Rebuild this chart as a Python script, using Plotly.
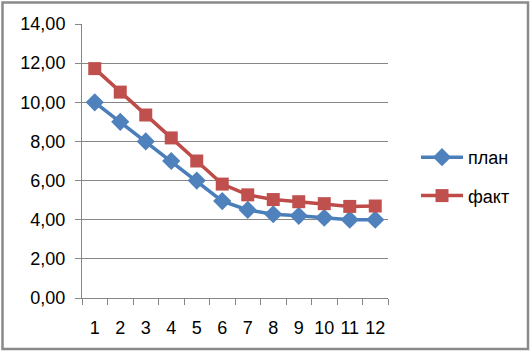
import plotly.graph_objects as go

categories = ["1", "2", "3", "4", "5", "6", "7", "8", "9", "10", "11", "12"]
plan = [10.0, 9.0, 8.0, 7.0, 6.0, 4.95, 4.5, 4.28, 4.2, 4.1, 4.0, 4.0]
fact = [11.72, 10.52, 9.35, 8.18, 7.0, 5.82, 5.27, 5.03, 4.92, 4.82, 4.68, 4.7]
y_ticks = [0, 2, 4, 6, 8, 10, 12, 14]
y_tick_labels = ["0,00", "2,00", "4,00", "6,00", "8,00", "10,00", "12,00", "14,00"]

W, H = 530, 351
L, R, T, B = 82, 142, 24, 53
pw, ph = W - L - R, H - T - B

fig = go.Figure()
fig.add_trace(go.Scatter(
    x=categories, y=plan, name="план", mode="lines+markers",
    line=dict(color="#4A7EBB", width=3.5),
    marker=dict(symbol="diamond", size=14, color="#4F81BD"),
    legendgroup="a",
))
fig.add_trace(go.Scatter(
    x=categories, y=fact, name="факт", mode="lines+markers",
    line=dict(color="#BE4B48", width=3.5),
    marker=dict(symbol="square", size=13, color="#C0504D"),
    legendgroup="b",
))

gray = "#868686"
fig.update_layout(
    width=W, height=H,
    margin=dict(l=L, r=R, t=T, b=B, pad=0),
    paper_bgcolor="white", plot_bgcolor="white",
    font=dict(family="Liberation Sans, Arial, sans-serif", size=18, color="black"),
    showlegend=True,
    legend=dict(
        x=(416 - L) / pw, y=(298 - 139) / ph, xanchor="left", yanchor="top",
        font=dict(size=18), traceorder="grouped", tracegroupgap=12,
        bgcolor="rgba(0,0,0,0)", itemwidth=42,
    ),
    xaxis=dict(
        type="category", range=[-0.5, 11.5],
        showline=True, linecolor=gray, linewidth=1,
        ticks="outside", ticklen=6, tickcolor=gray, tickson="boundaries",
        showgrid=False, zeroline=False, fixedrange=True,
        tickangle=0, ticklabelstandoff=13,
        tickfont=dict(size=18),
    ),
    yaxis=dict(
        range=[0, 14], tickvals=y_ticks, ticktext=y_tick_labels,
        showline=True, linecolor=gray, linewidth=1,
        ticks="outside", ticklen=6, tickcolor=gray,
        showgrid=True, gridcolor=gray, gridwidth=1,
        zeroline=False, fixedrange=True, ticklabelstandoff=6,
        tickfont=dict(size=18),
    ),
    shapes=[dict(
        type="rect", xref="paper", yref="paper",
        x0=(2.5 - L) / pw, x1=(528 - L) / pw,
        y0=(H - B - 349) / ph, y1=(H - B - 2.5) / ph,
        line=dict(color="#8A8A8A", width=2.5), fillcolor="rgba(0,0,0,0)",
        layer="below",
    )],
)

fig.write_html("out.html")
